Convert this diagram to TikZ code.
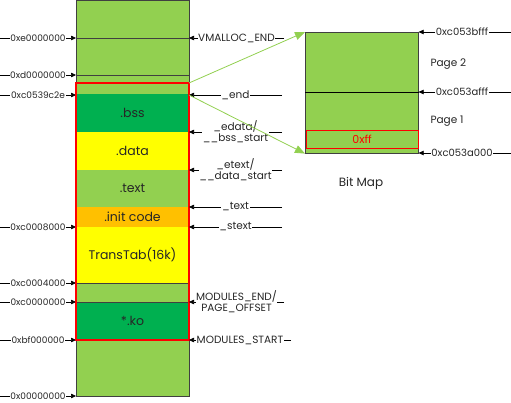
\documentclass[tikz,border=0pt]{standalone}
\usepackage{fontspec}
\setmainfont{Poppins}
\usetikzlibrary{arrows.meta}
\definecolor{lg}{HTML}{92D050}
\definecolor{dg}{HTML}{00B050}
\definecolor{yl}{HTML}{FFFF00}
\definecolor{og}{HTML}{FFC000}
\definecolor{rd}{HTML}{FF0000}
\definecolor{bd}{HTML}{404040}
\definecolor{tx}{HTML}{262626}
\begin{document}
\begin{tikzpicture}[x=1pt,y=-1pt,
 sec/.style={inner sep=0, outer sep=0, minimum width=113pt, anchor=north west, text=tx, font=\fontsize{12.5}{14}\selectfont},
 lbl/.style={fill=white, inner sep=0.6pt, text=tx, font=\fontsize{9}{10}\selectfont, align=center},
 rlbl/.style={lbl, font=\fontsize{10.5}{11}\selectfont},
 plain/.style={text=tx, font=\fontsize{10.5}{12}\selectfont},
 tip/.style={line width=0.6pt, -{Triangle[length=5pt,width=4.5pt]}},
 sep/.style={draw=bd, line width=0.6pt},
 garrow/.style={draw=lg, line width=0.8pt, -{Triangle[length=10pt,width=8pt]}},
]
\useasboundingbox (0,0) rectangle (511,403);
% main column
\node[sec, fill=lg, minimum height=396pt] (col) at (76,0) {};
\node[sec, fill=dg, minimum height=38pt] (bss) at (76,94) {.bss};
\node[sec, fill=yl, minimum height=38pt] (data) at (76,132) {.data};
\node[sec, fill=lg, minimum height=37pt] (text) at (76,170) {.text};
\node[sec, fill=og, minimum height=20pt] (init) at (76,207) {.init code};
\node[sec, fill=yl, minimum height=56pt] (trans) at (76,227) {TransTab(16k)};
\node[sec, fill=dg, minimum height=38pt] (ko) at (76,302) {*.ko};
% left labels
\foreach \y/\t/\n in {38/0xe0000000/a, 75/0xd0000000/b, 95/0xc0539c2e/c, 227/0xc0008000/d, 283/0xc0004000/e, 302/0xc0000000/f, 340/0xbf000000/g, 396/0x00000000/h} {
  \coordinate (L\n) at (0,\y);
  \draw[tip] (L\n) -- (L\n -| col.west) node[lbl, pos=0.5] {\t};
}
% separators across the column
\foreach \n in {a,b,e,f} {
  \draw[sep] (L\n -| col.west) -- (L\n -| col.east);
}
\draw[sep] (col.north west) rectangle (col.south east);
% red box
\coordinate (rbt) at (189,83);
\draw[rd, line width=1.3pt] (76,83) rectangle (rbt |- Lg);
% right labels
\foreach \y/\t/\n/\e in {38/VMALLOC\_END/a/284, 95/\_end/b/282, 132/{\_edata/\\\_\_bss\_start}/c/282, 170/{\_etext/\\\_\_data\_start}/d/282, 207/\_text/e/282, 227/\_stext/f/282, 302/{MODULES\_END/\\PAGE\_OFFSET}/g/284, 340/MODULES\_START/h/291} {
  \coordinate (R\n) at (\e,\y);
  \draw[tip] (R\n) -- (R\n -| col.east) node[rlbl, pos=0.5] {\t};
}
% bit map
\node[draw=bd, line width=0.6pt, fill=lg, minimum width=113pt, minimum height=121pt, anchor=north west, inner sep=0] (bm) at (305,32) {};
\coordinate (Ba) at (511,32);
\coordinate (Bb) at (511,92);
\coordinate (Bc) at (511,153);
\draw[sep, draw=black] (Bb -| bm.west) -- (Bb -| bm.east);
\node[draw=rd, line width=1.3pt, minimum width=112pt, minimum height=18pt, anchor=north west, inner sep=0, text=rd, font=\fontsize{11}{13}\selectfont] (ff) at (305.5,130) {0xff};
\draw[tip] (Ba) -- (Ba -| bm.east) node[rlbl, font=\fontsize{10}{11}\selectfont, pos=0.53] {0xc053bfff};
\draw[tip] (Bb) -- (Bb -| bm.east) node[rlbl, font=\fontsize{10}{11}\selectfont, pos=0.53] {0xc053afff};
\draw[tip] (Bc) -- (Bc -| bm.east) node[rlbl, font=\fontsize{10}{11}\selectfont, pos=0.53] {0xc053a000};
\node[plain, anchor=west] (p2) at (427,64) {Page 2};
\node[plain, anchor=west] (p1) at (427,121) {Page 1};
\node[plain, font=\fontsize{12}{14}\selectfont] (bmap) at (361,183) {Bit Map};
% green arrows
\draw[garrow] (rbt) -- (bm.north west);
\draw[garrow] (Rb -| col.east) -- (bm.south west);
\end{tikzpicture}
\end{document}
